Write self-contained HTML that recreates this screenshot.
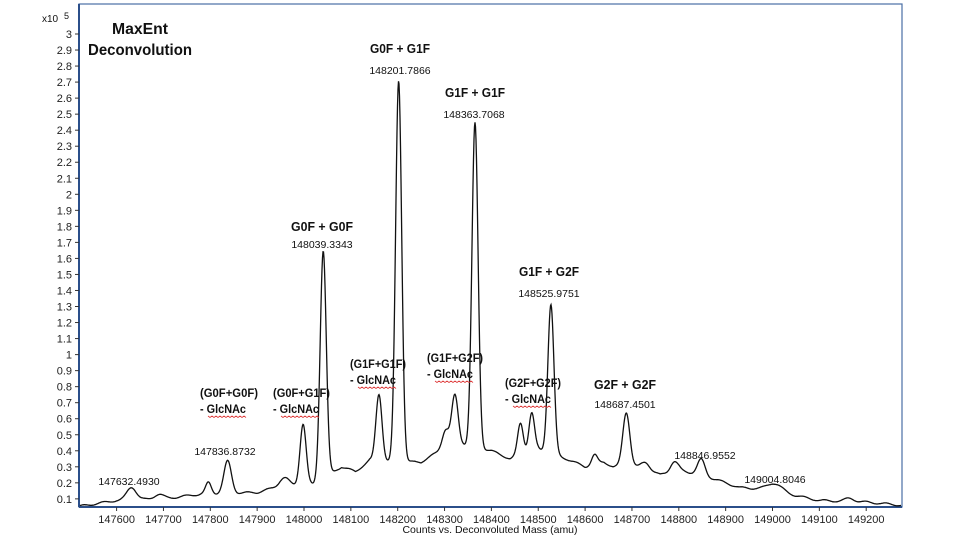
<!DOCTYPE html>
<html><head><meta charset="utf-8"><style>
body{margin:0;background:#fff;width:960px;height:540px;overflow:hidden}
svg{display:block}
text{font-family:"Liberation Sans",Arial,sans-serif;fill:#111}
.t{font-size:11px;fill:#222}
.b{font-size:13px;font-weight:bold}
.n{font-size:10.5px}
</style></head><body>
<svg id="s" width="960" height="540" xmlns="http://www.w3.org/2000/svg">
<rect x="79" y="4" width="823" height="503" fill="none" stroke="#4a6fa5" stroke-width="1.2"/>
<line x1="79" y1="4" x2="79" y2="507" stroke="#2b4f8a" stroke-width="2"/>
<line x1="79" y1="507" x2="902" y2="507" stroke="#2b4f8a" stroke-width="2"/>
<g id="yt"></g><g id="xt"></g>
<path id="curve" fill="none" stroke="#111" stroke-width="1.3"/>
<text x="42" y="22" font-size="10">x10</text><text x="64" y="19" font-size="9">5</text>
<text x="140" y="34" text-anchor="middle" style="font-size:16px;font-weight:bold" textLength="56" lengthAdjust="spacingAndGlyphs">MaxEnt</text>
<text x="140" y="55" text-anchor="middle" style="font-size:16px;font-weight:bold" textLength="104" lengthAdjust="spacingAndGlyphs">Deconvolution</text>
<text x="490" y="533" font-size="10.5" text-anchor="middle">Counts vs. Deconvoluted Mass (amu)</text>
<g text-anchor="middle">
<text x="400" y="53" class="b" textLength="60" lengthAdjust="spacingAndGlyphs">G0F + G1F</text><text x="400" y="74" class="n">148201.7866</text>
<text x="475" y="97" class="b" textLength="60" lengthAdjust="spacingAndGlyphs">G1F + G1F</text><text x="474" y="118" class="n">148363.7068</text>
<text x="322" y="231" class="b" textLength="62" lengthAdjust="spacingAndGlyphs">G0F + G0F</text><text x="322" y="248" class="n">148039.3343</text>
<text x="549" y="276" class="b" textLength="60" lengthAdjust="spacingAndGlyphs">G1F + G2F</text><text x="549" y="297" class="n">148525.9751</text>
<text x="625" y="389" class="b" textLength="62" lengthAdjust="spacingAndGlyphs">G2F + G2F</text><text x="625" y="408" class="n">148687.4501</text>
<text x="705" y="459" class="n">148846.9552</text>
<text x="775" y="483" class="n">149004.8046</text>
<text x="129" y="485" class="n">147632.4930</text>
<text x="225" y="455" class="n">147836.8732</text>
</g>
<g>
<text x="200" y="397" style="font-weight:bold;font-size:12px" textLength="58" lengthAdjust="spacingAndGlyphs">(G0F+G0F)</text><text x="200" y="413" style="font-weight:bold;font-size:12px" textLength="46" lengthAdjust="spacingAndGlyphs">- GlcNAc</text>
<text x="273" y="397" style="font-weight:bold;font-size:12px" textLength="57" lengthAdjust="spacingAndGlyphs">(G0F+G1F)</text><text x="273" y="413" style="font-weight:bold;font-size:12px" textLength="46" lengthAdjust="spacingAndGlyphs">- GlcNAc</text>
<text x="350" y="368" style="font-weight:bold;font-size:12px" textLength="56" lengthAdjust="spacingAndGlyphs">(G1F+G1F)</text><text x="350" y="384" style="font-weight:bold;font-size:12px" textLength="46" lengthAdjust="spacingAndGlyphs">- GlcNAc</text>
<text x="427" y="362" style="font-weight:bold;font-size:12px" textLength="56" lengthAdjust="spacingAndGlyphs">(G1F+G2F)</text><text x="427" y="378" style="font-weight:bold;font-size:12px" textLength="46" lengthAdjust="spacingAndGlyphs">- GlcNAc</text>
<text x="505" y="387" style="font-weight:bold;font-size:12px" textLength="56" lengthAdjust="spacingAndGlyphs">(G2F+G2F)</text><text x="505" y="403" style="font-weight:bold;font-size:12px" textLength="46" lengthAdjust="spacingAndGlyphs">- GlcNAc</text>
</g>
<g id="sq" fill="none" stroke="#d33" stroke-width="0.8"></g>
</svg>
<script>
function X(m){return 304+(m-148000)*0.4685}
function Y(v){return 34+(3-v)*160.3}
var yt=document.getElementById('yt'),xt=document.getElementById('xt'),h='';
for(var i=1;i<=30;i++){var v=i/10,y=Y(v);h+='<line x1="75" x2="79" y1="'+y+'" y2="'+y+'" stroke="#333"/><text x="72" y="'+(y+4)+'" class="t" text-anchor="end">'+(Math.round(v*10)/10)+'</text>';}
yt.innerHTML=h;h='';
for(var m=147600;m<=149200;m+=100){var x=X(m);h+='<line x1="'+x+'" x2="'+x+'" y1="507" y2="511" stroke="#333"/><text x="'+x+'" y="523" class="t" text-anchor="middle">'+m+'</text>';}
xt.innerHTML=h;
var bp=[[147535,.06],[147600,.09],[147700,.1],[147780,.13],[147900,.14],[147950,.18],[148020,.19],[148080,.3],[148110,.27],[148140,.34],[148180,.33],[148250,.33],[148290,.4],[148340,.44],[148400,.4],[148440,.35],[148500,.41],[148560,.35],[148600,.3],[148640,.33],[148660,.3],[148720,.3],[148760,.25],[148800,.28],[148830,.26],[148880,.22],[148930,.17],[149000,.16],[149050,.12],[149100,.09],[149200,.08],[149276,.06]];
function base(m){for(var i=0;i<bp.length-1;i++){if(m<=bp[i+1][0]){var t=(m-bp[i][0])/(bp[i+1][0]-bp[i][0]);return bp[i][1]+t*(bp[i+1][1]-bp[i][1]);}}return .06}
var pk=[[147632,.08,10],[147690,.03,10],[147796,.07,6],[147837,.2,8],[147958,.05,10],[147998,.38,6.5],[148041,1.42,6.5],[148160,.42,6.5],[148202,2.38,6.5],[148302,.12,7],[148322,.32,7],[148365,2.02,6.5],[148462,.2,6],[148486,.24,6],[148527,.93,6.5],[148620,.06,6],[148688,.34,7.5],[148730,.04,8],[148790,.06,8],[148848,.1,8],[149005,.04,15],[149165,.02,10]];
var d='';
for(var x=80;x<=901;x+=0.5){var m=148000+(x-304)/0.4685,v=base(m)+0.006*Math.sin(m/7);
for(var j=0;j<pk.length;j++){var p=pk[j],z=(m-p[0])/p[2];v+=p[1]*Math.exp(-z*z/2);}
d+=(d?'L':'M')+x.toFixed(1)+' '+Math.min(506,Y(v)).toFixed(1);}
document.getElementById('curve').setAttribute('d',d);
var sq=document.getElementById('sq');h='';
[[208,416],[281,416],[358,387],[435,381],[513,406]].forEach(function(a){var s='M'+a[0]+' '+a[1];for(var k=0;k<19;k++)s+='l2 '+(k%2?-1.5:1.5);h+='<path d="'+s+'"/>';});
sq.innerHTML=h;
</script>
</body></html>
